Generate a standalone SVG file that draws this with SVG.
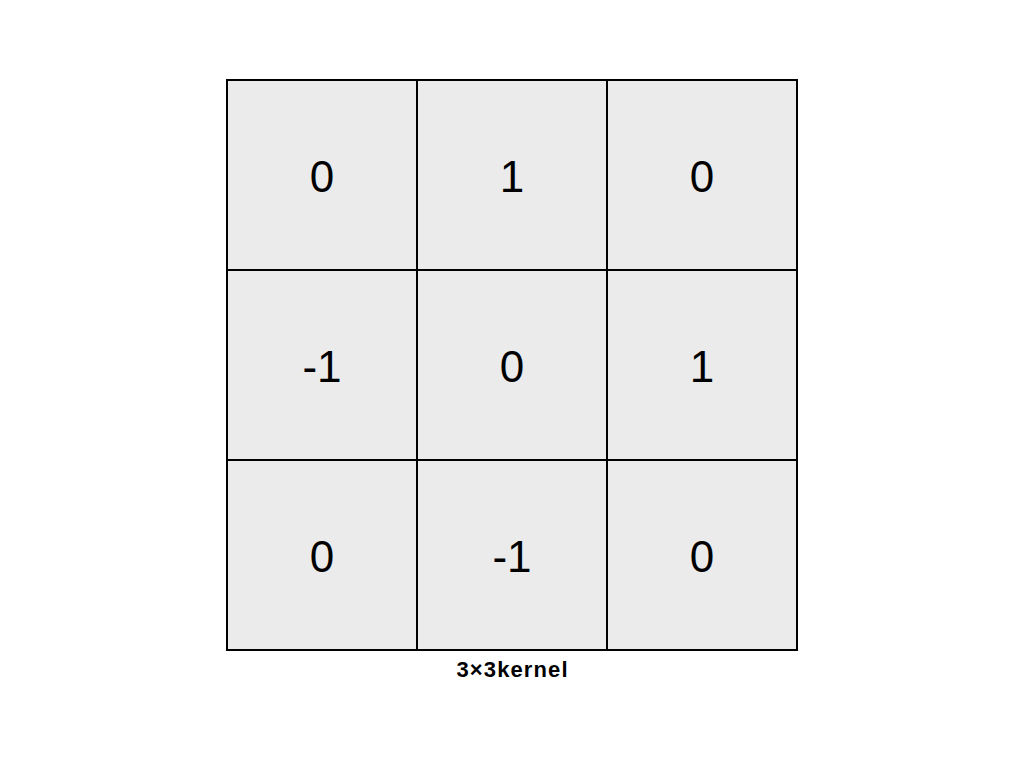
<svg xmlns="http://www.w3.org/2000/svg" width="1024" height="768" viewBox="0 0 1024 768">
<style>
.cell{fill:#ebebeb;stroke:#000;stroke-width:2}
.num{font-family:"Liberation Sans",Arial,sans-serif;font-size:44px;fill:#000;text-anchor:middle}
.lbl{font-family:"Liberation Sans",Arial,sans-serif;font-size:22px;font-weight:bold;fill:#000;text-anchor:middle}
</style>
<rect width="1024" height="768" fill="#fff"/>
<g id="c00"><rect class="cell" x="227" y="80" width="190" height="190"/><text class="num" x="322" y="192">0</text></g>
<g id="c01"><rect class="cell" x="417" y="80" width="190" height="190"/><text class="num" x="512" y="192">1</text></g>
<g id="c02"><rect class="cell" x="607" y="80" width="190" height="190"/><text class="num" x="702" y="192">0</text></g>
<g id="c10"><rect class="cell" x="227" y="270" width="190" height="190"/><text class="num" x="322" y="382">-1</text></g>
<g id="c11"><rect class="cell" x="417" y="270" width="190" height="190"/><text class="num" x="512" y="382">0</text></g>
<g id="c12"><rect class="cell" x="607" y="270" width="190" height="190"/><text class="num" x="702" y="382">1</text></g>
<g id="c20"><rect class="cell" x="227" y="460" width="190" height="190"/><text class="num" x="322" y="572">0</text></g>
<g id="c21"><rect class="cell" x="417" y="460" width="190" height="190"/><text class="num" x="512" y="572">-1</text></g>
<g id="c22"><rect class="cell" x="607" y="460" width="190" height="190"/><text class="num" x="702" y="572">0</text></g>
<g id="label"><text class="lbl" x="512" y="677" textLength="111" lengthAdjust="spacing">3×3kernel</text></g>
<g id="connectors"/>
</svg>
